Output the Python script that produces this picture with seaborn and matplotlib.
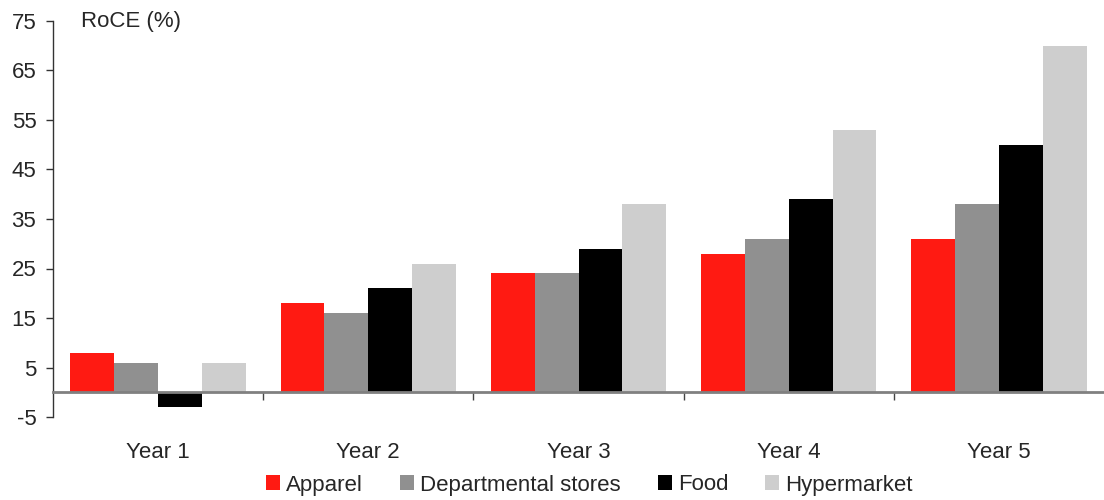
import matplotlib
matplotlib.use("Agg")
import matplotlib.pyplot as plt
import seaborn as sns
import pandas as pd
from matplotlib.patches import Patch
from matplotlib.ticker import FixedLocator

years = ["Year 1", "Year 2", "Year 3", "Year 4", "Year 5"]
segments = ["Apparel", "Departmental stores", "Food", "Hypermarket"]
apparel = [8, 18, 24, 28, 31]
departmental = [6, 16, 24, 31, 38]
food = [-3, 21, 29, 39, 50]
hypermarket = [6, 26, 38, 53, 70]
colors = ["#FF1A12", "#909090", "#000000", "#CECECE"]
y_ticks = [-5, 5, 15, 25, 35, 45, 55, 65, 75]

series = [apparel, departmental, food, hypermarket]
df = pd.DataFrame({
    "Year": [y for _ in segments for y in years],
    "Segment": [s for s in segments for _ in years],
    "RoCE": [v for vals in series for v in vals],
})

sns.set_style("white")
plt.rcParams["font.family"] = ["Liberation Sans", "DejaVu Sans"]
FS = 16

fig = plt.figure(figsize=(11.04, 5.0), dpi=100)
ax = fig.add_axes([53 / 1104, 1 - 417 / 500, 1 - 53 / 1104, (417 - 21) / 500])

sns.barplot(data=df, x="Year", y="RoCE", hue="Segment", order=years,
            hue_order=segments, palette=colors, width=0.835, gap=0,
            saturation=1, linewidth=0, errorbar=None, legend=False, ax=ax)

ax.set_xlim(-0.5, 4.5)
ax.set_ylim(-5, 75)
ax.set_yticks(y_ticks)
ax.set_yticklabels([str(t) for t in y_ticks], fontsize=FS)
ax.set_xlabel("")
ax.set_ylabel("")

for side in ["top", "right"]:
    ax.spines[side].set_visible(False)
ax.spines["left"].set_color("#333333")
ax.spines["left"].set_linewidth(1.0)
ax.spines["bottom"].set_position(("data", 0))
ax.spines["bottom"].set_color("#808080")
ax.spines["bottom"].set_linewidth(2.0)
ax.spines["bottom"].set_zorder(5)

ax.tick_params(axis="y", direction="out", length=5, width=1, color="#333333",
               pad=7, left=True)
ax.set_xticks(range(len(years)))
ax.set_xticklabels(years, fontsize=FS)
ax.tick_params(axis="x", which="major", length=0, pad=36)
ax.xaxis.set_minor_locator(FixedLocator([0.5, 1.5, 2.5, 3.5]))
ax.tick_params(axis="x", which="minor", direction="out", length=6, width=1,
               color="#444444", bottom=True)

fig.text(81 / 1104, 1 - 21 / 500, "RoCE (%)", fontsize=FS, va="center", ha="left")

handles = [Patch(facecolor=c, edgecolor="none", label=s) for s, c in zip(segments, colors)]
fig.legend(handles=handles, loc="center", bbox_to_anchor=(0.534, 1 - 485 / 500),
           ncol=4, frameon=False, fontsize=FS, handlelength=0.63,
           handleheight=0.63, handletextpad=0.27, columnspacing=1.67,
           borderaxespad=0, borderpad=0)

fig.savefig("out.png", dpi=100)
